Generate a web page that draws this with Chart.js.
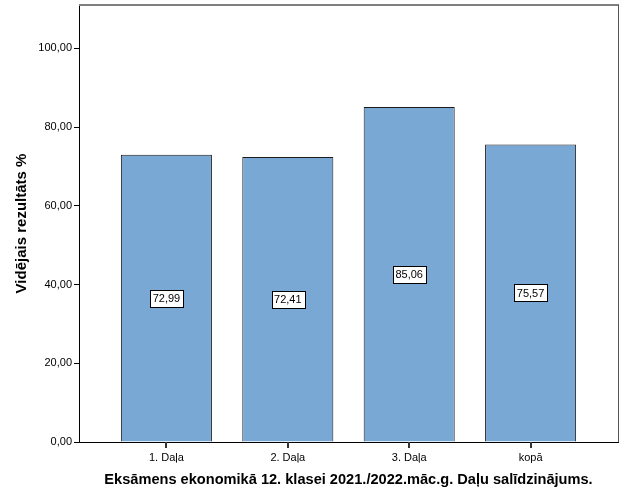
<!DOCTYPE html>
<html>
<head>
<meta charset="utf-8">
<script src="https://cdn.jsdelivr.net/npm/chart.js@4"></script>
<style>
  html, body { margin: 0; padding: 0; background: #fff; }
  #wrap { width: 625px; height: 500px; }
</style>
</head>
<body>
<div id="wrap"><canvas id="grafica" width="625" height="500"></canvas></div>
<script>
// dati
const kategorijas = ["1. Daļa", "2. Daļa", "3. Daļa", "kopā"];
const vertibas = [72.99, 72.41, 85.06, 75.57];
const yTicks = [0, 20, 40, 60, 80, 100];

const fmt = v => v.toFixed(2).replace(".", ",");

// ramis, x ass iedaļas un vērtību etiķetes
const ramisPlugin = {
  id: "ramis",
  afterDraw(chart) {
    const { ctx, chartArea: a } = chart;
    const xs = chart.scales.x;
    ctx.save();
    ctx.fillStyle = "#7f7f7f";
    ctx.fillRect(a.left, a.top - 1, a.right - a.left + 1, 2);
    ctx.fillStyle = "#555";
    ctx.fillRect(Math.round(a.right), a.top, 1, a.bottom - a.top);

    // x ass iedaļas
    ctx.fillStyle = "#333";
    kategorijas.forEach((_, i) => {
      const px = Math.round(xs.getPixelForValue(i));
      ctx.fillRect(px - 1, Math.round(a.bottom), 2, 6);
    });

    ctx.lineWidth = 1;
    ctx.font = "11px Arial, 'Liberation Sans'";
    ctx.textAlign = "center";
    ctx.textBaseline = "middle";
    chart.getDatasetMeta(0).data.forEach((bar, i) => {
      const t = fmt(vertibas[i]);
      const x = bar.x;
      const y = (bar.y + bar.base) / 2;
      const w = ctx.measureText(t).width + 5;
      const h = 17;
      ctx.fillStyle = "#fff";
      ctx.fillRect(Math.round(x - w / 2) + 0.5, Math.round(y - h / 2) + 0.5, Math.round(w), h);
      ctx.strokeStyle = "#000";
      ctx.strokeRect(Math.round(x - w / 2) + 0.5, Math.round(y - h / 2) + 0.5, Math.round(w), h);
      ctx.fillStyle = "#000";
      ctx.fillText(t, x, y + 1);
    });
    ctx.restore();
  }
};

new Chart(document.getElementById("grafica"), {
  type: "bar",
  data: {
    datasets: [{
      data: vertibas.map((v, i) => ({ x: i, y: v })),
      backgroundColor: "rgb(122,168,213)",
      borderColor: "#1a1a1a",
      borderWidth: 1,
      barPercentage: 0.75,
      categoryPercentage: 1
    }]
  },
  options: {
    responsive: false,
    animation: false,
    layout: { padding: { left: 13, top: 5, right: 7, bottom: 0 } },
    plugins: { legend: { display: false }, tooltip: { enabled: false } },
    scales: {
      x: {
        type: "linear",
        min: -0.72,
        max: 3.72,
        offset: false,
        afterBuildTicks: s => { s.ticks = kategorijas.map((_, i) => ({ value: i })); },
        afterFit: s => { s.height = 58; s.paddingLeft = 0; s.paddingRight = 0; },
        ticks: {
          callback: v => kategorijas[v],
          color: "#000",
          font: { family: "Arial, 'Liberation Sans'", size: 11 },
          padding: 4,
          autoSkip: false,
          maxRotation: 0
        },
        grid: { display: false, tickLength: 5 },
        border: { display: true, color: "#000", width: 1 },
        title: {
          display: true,
          text: "Eksāmens ekonomikā 12. klasei 2021./2022.māc.g. Daļu salīdzinājums.",
          color: "#000",
          font: { family: "Arial, 'Liberation Sans'", size: 14.6, weight: "bold" },
          padding: { top: 0, bottom: 11 }
        }
      },
      y: {
        min: 0,
        max: 111,
        afterBuildTicks: s => { s.ticks = yTicks.map(v => ({ value: v })); },
        afterFit: s => { s.width = 66; s.paddingTop = 0; s.paddingBottom = 0; },
        ticks: {
          callback: v => fmt(v),
          color: "#000",
          font: { family: "Arial, 'Liberation Sans'", size: 11 },
          padding: 2
        },
        grid: { drawOnChartArea: false, tickLength: 5, color: "#000", tickColor: "#000" },
        border: { color: "#000", width: 1 },
        title: {
          display: true,
          text: "Vidējais rezultāts %",
          color: "#000",
          font: { family: "Arial, 'Liberation Sans'", size: 15, weight: "bold" },
          padding: { top: 0, bottom: 0 }
        }
      }
    }
  },
  plugins: [ramisPlugin]
});
</script>
</body>
</html>
